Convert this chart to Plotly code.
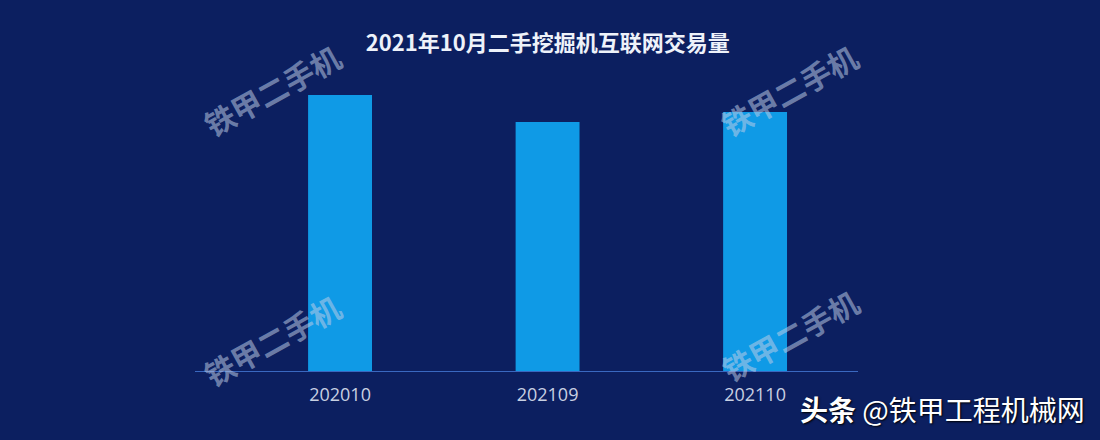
import plotly.graph_objects as go

categories = ["202010", "202109", "202110"]
values = [5520, 4980, 5180]

title_text = "2021年10月二手挖掘机互联网交易量"
watermark = "铁甲二手机"
source_text = "<b>头条</b> @铁甲工程机械网"

BG = "#0c1f60"
BAR = "#0f9ae6"
FONT = "Noto Sans CJK SC"

fig = go.Figure()
fig.add_trace(go.Bar(
    x=list(range(len(categories))), y=values,
    marker=dict(color=BAR, line=dict(width=0)),
    width=0.308, hoverinfo="skip",
))

dom_l, dom_r, dom_t, dom_b = 195, 858, 60, 371

fig.update_layout(
    width=1100, height=440,
    margin=dict(l=dom_l, r=1100 - dom_r, t=dom_t, b=440 - dom_b),
    paper_bgcolor=BG, plot_bgcolor=BG,
    showlegend=False,
    font=dict(family=FONT),
    title=dict(text="<b>" + title_text + "</b>", x=0.498, xanchor="center",
               y=0.902, yanchor="middle",
               font=dict(family=FONT, size=22, color="#eef2fa")),
    xaxis=dict(
        range=[-0.699, 2.496],
        tickmode="array", tickvals=list(range(len(categories))), ticktext=categories,
        showgrid=False, zeroline=False, showline=True, linecolor="#3a68c0", linewidth=1,
        ticks="", ticklabelstandoff=7,
        tickfont=dict(family="Open Sans", size=18, color="#c8d0e2"),
    ),
    yaxis=dict(range=[0, 6220], visible=False, showgrid=False, zeroline=False),
)

wm_positions = [(272, 90), (789, 90), (272, 340), (790, 335)]
for (px, py) in wm_positions:
    fig.add_annotation(
        x=(px - dom_l) / (dom_r - dom_l), y=(dom_b - py) / (dom_b - dom_t),
        xref="paper", yref="paper",
        text="<b>" + watermark + "</b>", showarrow=False, textangle=-29,
        xanchor="center", yanchor="middle",
        font=dict(family=FONT, size=30, color="rgba(190,205,230,0.55)"),
    )

fig.add_annotation(
    x=(1087 - dom_l) / (dom_r - dom_l), y=(dom_b - 409) / (dom_b - dom_t),
    xref="paper", yref="paper", xanchor="right", yanchor="middle",
    text=source_text, showarrow=False,
    font=dict(family=FONT, size=28, color="#ffffff", shadow="1px 1px 2px #000000"),
)

fig.write_html("out.html", config={"displayModeBar": False},
               post_script="document.body.style.margin='0';document.body.style.overflow='hidden';")
